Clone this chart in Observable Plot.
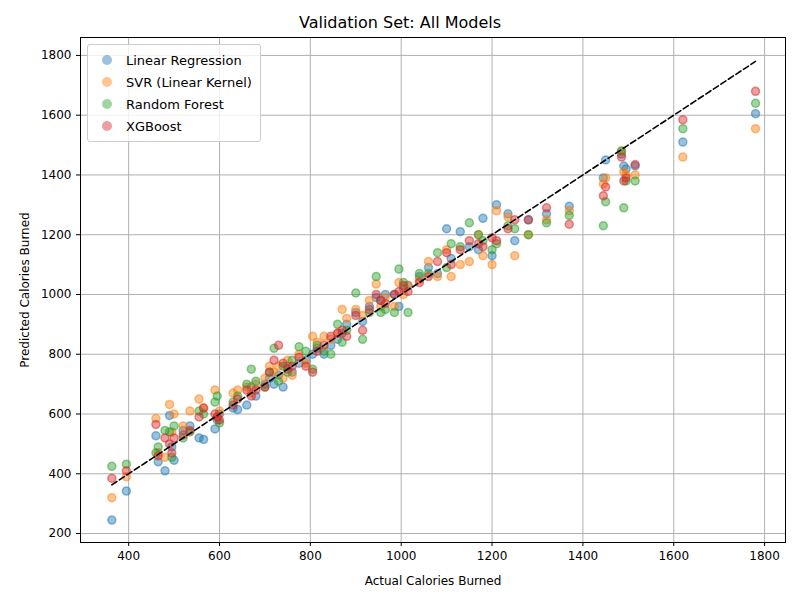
<!DOCTYPE html>
<html><head><meta charset="utf-8">
<script src="https://cdn.jsdelivr.net/npm/d3@7"></script>
<script src="https://cdn.jsdelivr.net/npm/@observablehq/plot@0.6"></script>
<style>
body{margin:0;font-family:"DejaVu Sans",sans-serif;background:#fff}
#wrap{position:relative;width:800px}
#title{height:30px;line-height:30px;padding-top:8px;box-sizing:border-box;text-align:center;font-size:16px}
#legend{position:absolute;left:87px;top:44px;border:1px solid #ccc;border-radius:3px;background:rgba(255,255,255,0.8);padding:4px 8px;font-size:13px}
#legend div{display:flex;align-items:center;height:22px}
#legend span.m{display:inline-block;width:10px;height:10px;border-radius:50%;margin:0 14px 0 6px;opacity:0.45}
</style></head>
<body><div id="wrap"><div id="title">Validation Set: All Models</div><div id="chart"></div><div id="legend"></div></div>
<script>
const models = ['Linear Regression', 'SVR (Linear Kernel)', 'Random Forest', 'XGBoost']
const colors = ['#1f77b4', '#ff7f0e', '#2ca02c', '#d62728']
const actual = [363,395,460,465,480,490,495,500,520,535,555,565,590,595,600,630,640,660,670,680,700,710,720,730,740,750,760,775,790,805,815,830,845,860,870,880,900,915,930,945,955,965,985,995,1005,1015,1040,1060,1080,1100,1110,1130,1150,1170,1180,1200,1210,1235,1250,1280,1320,1370,1445,1450,1485,1490,1495,1515,1620,1780]
const predLR = [245,342,527,440,410,595,490,445,545,560,520,515,550,580,600,620,615,630,690,660,700,720,700,730,690,760,740,770,780,800,820,800,830,850,870,900,940,910,960,990,980,1000,1000,960,1020,1030,1060,1090,1070,1220,1120,1210,1160,1150,1255,1130,1300,1270,1180,1250,1270,1295,1390,1450,1470,1430,1420,1430,1510,1605]
const predSVR = [320,390,585,470,455,632,540,600,560,610,650,620,680,590,610,670,680,690,670,700,720,760,740,760,720,780,730,800,770,860,840,860,850,870,950,920,950,930,980,1035,960,990,960,1040,1000,1030,1050,1110,1060,1150,1060,1100,1110,1200,1130,1100,1280,1260,1130,1200,1250,1280,1370,1390,1480,1410,1400,1400,1460,1555]
const predRF = [425,432,470,490,545,540,455,560,520,540,610,600,640,660,570,640,660,700,750,710,690,740,820,710,760,740,780,825,810,750,830,810,800,900,840,880,1005,850,940,1060,940,950,940,1085,1040,940,1070,1070,1140,1090,1170,1160,1240,1200,1180,1150,1170,1230,1220,1200,1240,1265,1230,1310,1480,1290,1380,1380,1555,1640]
const predXGB = [385,410,565,460,520,500,470,520,530,545,590,620,600,590,580,630,650,680,660,680,690,740,780,830,770,750,760,790,760,740,810,830,860,870,880,860,930,880,950,1000,980,970,1000,1010,1030,1010,1040,1060,1110,1140,1100,1150,1180,1170,1160,1190,1180,1220,1250,1250,1290,1235,1330,1360,1460,1380,1390,1435,1585,1680]
const xTicks = [400, 600, 800, 1000, 1200, 1400, 1600, 1800]
const yTicks = [200, 400, 600, 800, 1000, 1200, 1400, 1600, 1800]

const preds = [predLR, predSVR, predRF, predXGB]
const points = models.flatMap((m, i) => actual.map((a, j) => ({model: m, actual: a, pred: preds[i][j]})))
const lo = d3.min(actual), hi = d3.max(actual)
const diag = [{x: lo, y: lo}, {x: hi, y: hi}]

const chart = Plot.plot({
  width: 800, height: 570,
  marginLeft: 80, marginRight: 15, marginTop: 7, marginBottom: 58,
  style: {fontFamily: 'DejaVu Sans', fontSize: '12px'},
  x: {domain: [294, 1846], ticks: xTicks, tickFormat: d3.format('d'), label: 'Actual Calories Burned', labelArrow: 'none', labelAnchor: 'center', labelOffset: 42, tickSize: 4},
  y: {domain: [170, 1860], ticks: yTicks, tickFormat: d3.format('d'), label: 'Predicted Calories Burned', labelArrow: 'none', labelAnchor: 'center', labelOffset: 60, tickSize: 4},
  color: {domain: models, range: colors},
  marks: [
    Plot.gridX(xTicks, {stroke: '#b0b0b0', strokeOpacity: 1}),
    Plot.gridY(yTicks, {stroke: '#b0b0b0', strokeOpacity: 1}),
    Plot.dot(points, {x: 'actual', y: 'pred', fill: 'model', stroke: 'model', r: 4, fillOpacity: 0.45, strokeOpacity: 0.5}),
    Plot.line(diag, {x: 'x', y: 'y', stroke: 'black', strokeWidth: 1.6, strokeDasharray: '6,3'}),
    Plot.frame({stroke: 'black'})
  ]
})
d3.select('#chart').append(() => chart)

const lg = d3.select('#legend')
models.forEach((m, i) => {
  const row = lg.append('div')
  row.append('span').attr('class', 'm').style('background', colors[i])
  row.append('span').text(m)
})
</script></body></html>
